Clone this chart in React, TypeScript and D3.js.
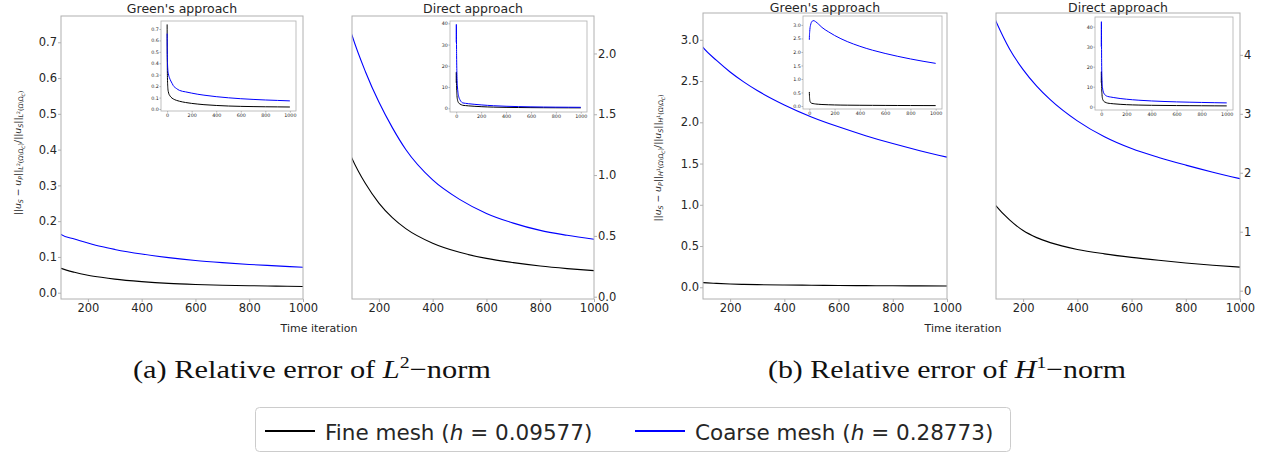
import React, { useEffect, useRef } from 'react';
import * as d3 from 'd3';

// time iterations at which the curves were read
const iterations = [0, 1, 3, 6, 10, 15, 20, 30, 40, 50, 75, 100, 150, 200, 250, 300, 400, 500, 600, 700, 800, 900, 1000];

// relative error, L2 norm
const l2GreenFine = [0.74, 0.45, 0.25, 0.18, 0.15, 0.13, 0.12, 0.105, 0.095, 0.088, 0.076, 0.068, 0.057, 0.049, 0.043, 0.038, 0.031, 0.026, 0.023, 0.021, 0.0195, 0.0185, 0.0175];
const l2GreenCoarse = [0.66, 0.5, 0.4, 0.34, 0.31, 0.285, 0.27, 0.245, 0.225, 0.205, 0.18, 0.163, 0.15, 0.139, 0.129, 0.121, 0.108, 0.098, 0.09, 0.084, 0.079, 0.075, 0.071];
const l2DirectFine = [12, 17, 10, 6, 4, 3, 2.5, 2.0, 1.7, 1.45, 1.27, 1.137, 0.93, 0.77, 0.65, 0.56, 0.44, 0.365, 0.315, 0.28, 0.252, 0.231, 0.214];
const l2DirectCoarse = [31, 39.5, 25, 15, 10, 7, 5.5, 4.0, 3.1, 2.6, 2.34, 2.15, 1.85, 1.6, 1.39, 1.21, 0.96, 0.8, 0.685, 0.605, 0.545, 0.505, 0.472];

// relative error, H1 norm
const h1GreenFine = [0.52, 0.4, 0.25, 0.17, 0.13, 0.11, 0.1, 0.09, 0.082, 0.075, 0.064, 0.056, 0.047, 0.04, 0.035, 0.032, 0.028, 0.025, 0.022, 0.02, 0.018, 0.017, 0.016];
const h1GreenCoarse = [2.45, 2.6, 2.75, 2.9, 3.0, 3.08, 3.12, 3.16, 3.15, 3.12, 3.02, 2.908, 2.75, 2.61, 2.49, 2.385, 2.21, 2.065, 1.945, 1.838, 1.742, 1.656, 1.578];
const h1DirectFine = [12, 17.5, 10, 6, 4, 3.2, 2.7, 2.3, 2.0, 1.8, 1.59, 1.438, 1.2, 1.02, 0.9, 0.815, 0.7, 0.625, 0.565, 0.515, 0.47, 0.432, 0.4];
const h1DirectCoarse = [30, 42.5, 22, 13, 9.5, 7.8, 6.8, 5.9, 5.4, 5.15, 4.83, 4.567, 4.1, 3.75, 3.47, 3.24, 2.88, 2.61, 2.41, 2.26, 2.13, 2.01, 1.9];

// tick labels
const mainXTicks = [200, 400, 600, 800, 1000];
const insetXTicks = [0, 200, 400, 600, 800, 1000];
const l2GreenTicks = [0, 0.1, 0.2, 0.3, 0.4, 0.5, 0.6, 0.7];
const l2DirectTicks = [0, 0.5, 1.0, 1.5, 2.0];
const h1GreenTicks = [0, 0.5, 1.0, 1.5, 2.0, 2.5, 3.0];
const h1DirectTicks = [0, 1, 2, 3, 4];
const directInsetTicks = [0, 10, 20, 30, 40];

const seriesNames = ['Fine mesh', 'Coarse mesh'];
const meshSizes = ['0.09577', '0.28773'];
const colors = ['#000000', '#0000ff'];

type Box = { x0: number; x1: number; y0: number; y1: number };
type Panel = {
  title: string; titleY: number; box: Box; yDomain: [number, number]; yTicks: number[]; fmt: string; side: 'left' | 'right';
  fine: number[]; coarse: number[];
  inset: { box: Box; yDomain: [number, number]; yTicks: number[]; fmt: string };
};

const panels: Panel[] = [
  {
    title: "Green's approach", titleY: 12.5, box: { x0: 61, x1: 303, y0: 16, y1: 299 }, yDomain: [-0.0176, 0.7735],
    yTicks: l2GreenTicks, fmt: '.1f', side: 'left', fine: l2GreenFine, coarse: l2GreenCoarse,
    inset: { box: { x0: 161, x1: 296, y0: 21, y1: 111 }, yDomain: [-0.0175, 0.77], yTicks: l2GreenTicks, fmt: '.1f' },
  },
  {
    title: 'Direct approach', titleY: 12.5, box: { x0: 352, x1: 594, y0: 16, y1: 299 }, yDomain: [-0.019, 2.308],
    yTicks: l2DirectTicks, fmt: '.1f', side: 'right', fine: l2DirectFine, coarse: l2DirectCoarse,
    inset: { box: { x0: 450, x1: 587, y0: 21, y1: 112 }, yDomain: [-1.74, 41.1], yTicks: directInsetTicks, fmt: 'd' },
  },
  {
    title: "Green's approach", titleY: 11.5, box: { x0: 703, x1: 947, y0: 13, y1: 299 }, yDomain: [-0.142, 3.325],
    yTicks: h1GreenTicks, fmt: '.1f', side: 'left', fine: h1GreenFine, coarse: h1GreenCoarse,
    inset: { box: { x0: 803, x1: 942, y0: 16, y1: 109 }, yDomain: [-0.11, 3.33], yTicks: h1GreenTicks, fmt: '.1f' },
  },
  {
    title: 'Direct approach', titleY: 11.5, box: { x0: 996, x1: 1240, y0: 13, y1: 299 }, yDomain: [-0.141, 4.71],
    yTicks: h1DirectTicks, fmt: 'd', side: 'right', fine: h1DirectFine, coarse: h1DirectCoarse,
    inset: { box: { x0: 1095, x1: 1233, y0: 17, y1: 110 }, yDomain: [-1.65, 44.85], yTicks: directInsetTicks, fmt: 'd' },
  },
];

// pieces of the y label: text, italic, downward shift (px), size factor
type Seg = [string, boolean, number, number];
const normSub = (n: string, sup: string): Seg[] => [
  [n, true, 2.7, 0.7], [sup, false, -0.5, 0.5], ['(Ω\\Ω', false, 2.7, 0.7], ['C', true, 4, 0.5], [')', false, 2.7, 0.7],
];
const yLabel = (n: string, sup: string): Seg[] => [
  ['||', false, 0, 1], ['u', true, 0, 1], ['S', true, 2.2, 0.7], [' − ', false, 0, 1], ['u', true, 0, 1], ['P', true, 2.2, 0.7],
  ['||', false, 0, 1], ...normSub(n, sup), ['/||', false, 0, 1], ['u', true, 0, 1], ['S', true, 2.2, 0.7], ['||', false, 0, 1],
  ...normSub(n, sup),
];

const FONT = 'DejaVu Sans';
const TEXT = '#262626';
const SPINE = '#b0b0b0';
const LABEL_SIZE = 9.2;

const App: React.FC = () => {
  const svgRef = useRef<SVGSVGElement>(null);

  useEffect(() => {
    const svg = d3.select(svgRef.current);
    svg.selectAll('*').remove();
    svg.append('rect').attr('width', 1273).attr('height', 452).attr('fill', '#fff');

    const drawAxes = (
      g: d3.Selection<SVGGElement, unknown, null, undefined>,
      x: d3.ScaleLinear<number, number>, y: d3.ScaleLinear<number, number>, box: Box,
      xt: number[], yt: number[], fmt: string, side: 'left' | 'right', fs: number, tick: number, pad: number,
    ) => {
      const xa = g.append('g').attr('transform', `translate(0,${box.y1})`)
        .call(d3.axisBottom(x).tickValues(xt).tickSize(tick).tickPadding(pad).tickFormat(d3.format('d') as any));
      const ya = g.append('g').attr('transform', `translate(${side === 'left' ? box.x0 : box.x1},0)`)
        .call((side === 'left' ? d3.axisLeft(y) : d3.axisRight(y)).tickValues(yt).tickSize(tick).tickPadding(pad * 0.5).tickFormat(d3.format(fmt) as any));
      [xa, ya].forEach((a) => {
        a.attr('font-family', FONT).attr('font-size', fs);
        a.select('.domain').remove();
        a.selectAll('line').attr('stroke', SPINE);
        a.selectAll('text').attr('fill', TEXT);
      });
    };

    panels.forEach((p, i) => {
      const { x0, x1, y0, y1 } = p.box;
      const g = svg.append('g');
      const x = d3.scaleLinear().domain([100, 1000]).range([x0, x1]);
      const y = d3.scaleLinear().domain(p.yDomain).range([y1, y0]);

      g.append('clipPath').attr('id', `clip${i}`).append('rect')
        .attr('x', x0).attr('y', y0).attr('width', x1 - x0).attr('height', y1 - y0);

      const line = d3.line<number>().x((_, k) => x(iterations[k])).y((d) => y(d)).curve(d3.curveMonotoneX);
      [p.fine, p.coarse].forEach((s, k) => {
        g.append('path').attr('d', line(s)).attr('fill', 'none').attr('stroke', colors[k])
          .attr('stroke-width', 1.1).attr('clip-path', `url(#clip${i})`);
      });
      g.append('rect').attr('x', x0).attr('y', y0).attr('width', x1 - x0).attr('height', y1 - y0)
        .attr('fill', 'none').attr('stroke', SPINE).attr('stroke-width', 1);
      drawAxes(g, x, y, p.box, mainXTicks, p.yTicks, p.fmt, p.side, 11.5, 3, 2);

      g.append('text').attr('x', (x0 + x1) / 2).attr('y', p.titleY).attr('text-anchor', 'middle')
        .attr('font-family', FONT).attr('font-size', 12.5).attr('fill', TEXT).text(p.title);

      // inset with the full run
      const ib = p.inset.box;
      const ix = d3.scaleLinear().domain([-50, 1050]).range([ib.x0, ib.x1]);
      const iy = d3.scaleLinear().domain(p.inset.yDomain).range([ib.y1, ib.y0]);
      g.append('rect').attr('x', ib.x0).attr('y', ib.y0).attr('width', ib.x1 - ib.x0).attr('height', ib.y1 - ib.y0).attr('fill', '#fff');
      const iline = d3.line<number>().x((_, k) => ix(iterations[k])).y((d) => iy(d)).curve(d3.curveMonotoneX);
      [p.fine, p.coarse].forEach((s, k) => {
        g.append('path').attr('d', iline(s)).attr('fill', 'none').attr('stroke', colors[k]).attr('stroke-width', 1);
      });
      g.append('rect').attr('x', ib.x0).attr('y', ib.y0).attr('width', ib.x1 - ib.x0).attr('height', ib.y1 - ib.y0)
        .attr('fill', 'none').attr('stroke', SPINE).attr('stroke-width', 0.8);
      drawAxes(g, ix, iy, ib, insetXTicks, p.inset.yTicks, p.inset.fmt, 'left', 4.8, 1.5, 1.2);
    });

    // axis labels
    [319, 963].forEach((cx) => {
      svg.append('text').attr('x', cx).attr('y', 332).attr('text-anchor', 'middle')
        .attr('font-family', FONT).attr('font-size', 11).attr('fill', TEXT).text('Time iteration');
    });
    const yLabels: [number, number, Seg[]][] = [[17, 153, yLabel('L', '2')], [657, 158, yLabel('H', '1')]];
    yLabels.forEach(([cx, cy, segs]) => {
      const t = svg.append('text').attr('transform', `translate(${cx + 3.5},${cy}) rotate(-90)`).attr('text-anchor', 'middle')
        .attr('font-family', FONT).attr('font-size', LABEL_SIZE).attr('fill', TEXT);
      let prev = 0;
      segs.forEach(([s, it, sh, f]) => {
        t.append('tspan').attr('dy', sh - prev).attr('font-style', it ? 'italic' : 'normal')
          .attr('font-size', LABEL_SIZE * f).text(s);
        prev = sh;
      });
    });

    // captions
    const captions: [number, string, string, string][] = [[133, '(a)', 'L', '2'], [768, '(b)', 'H', '1']];
    captions.forEach(([cx, tag, n, sup]) => {
      const t = svg.append('text').attr('x', cx).attr('y', 378).attr('font-family', 'Liberation Serif').attr('font-size', 26)
        .attr('fill', '#111').attr('textLength', 358).attr('lengthAdjust', 'spacingAndGlyphs');
      t.append('tspan').text(`${tag} Relative error of `);
      t.append('tspan').attr('font-style', 'italic').text(n);
      t.append('tspan').attr('dy', -10).attr('font-size', 17).text(sup);
      t.append('tspan').attr('dy', 10).text('−norm');
    });

    // legend
    svg.append('rect').attr('x', 255.5).attr('y', 407.5).attr('width', 755).attr('height', 44).attr('rx', 4)
      .attr('fill', '#fff').attr('stroke', '#cccccc');
    const legendX = [265, 635];
    seriesNames.forEach((name, k) => {
      const lx = legendX[k];
      svg.append('line').attr('x1', lx).attr('x2', lx + 50).attr('y1', 431).attr('y2', 431)
        .attr('stroke', colors[k]).attr('stroke-width', 2);
      const t = svg.append('text').attr('x', lx + 60).attr('y', 439.5).attr('font-family', FONT)
        .attr('font-size', 21.5).attr('fill', TEXT);
      t.append('tspan').text(`${name} (`);
      t.append('tspan').attr('font-style', 'italic').text('h');
      t.append('tspan').text(` = ${meshSizes[k]})`);
    });
  }, []);

  return <svg ref={svgRef} width={1273} height={452} style={{ position: 'absolute', left: 0, top: 0 }} />;
};

export default App;
